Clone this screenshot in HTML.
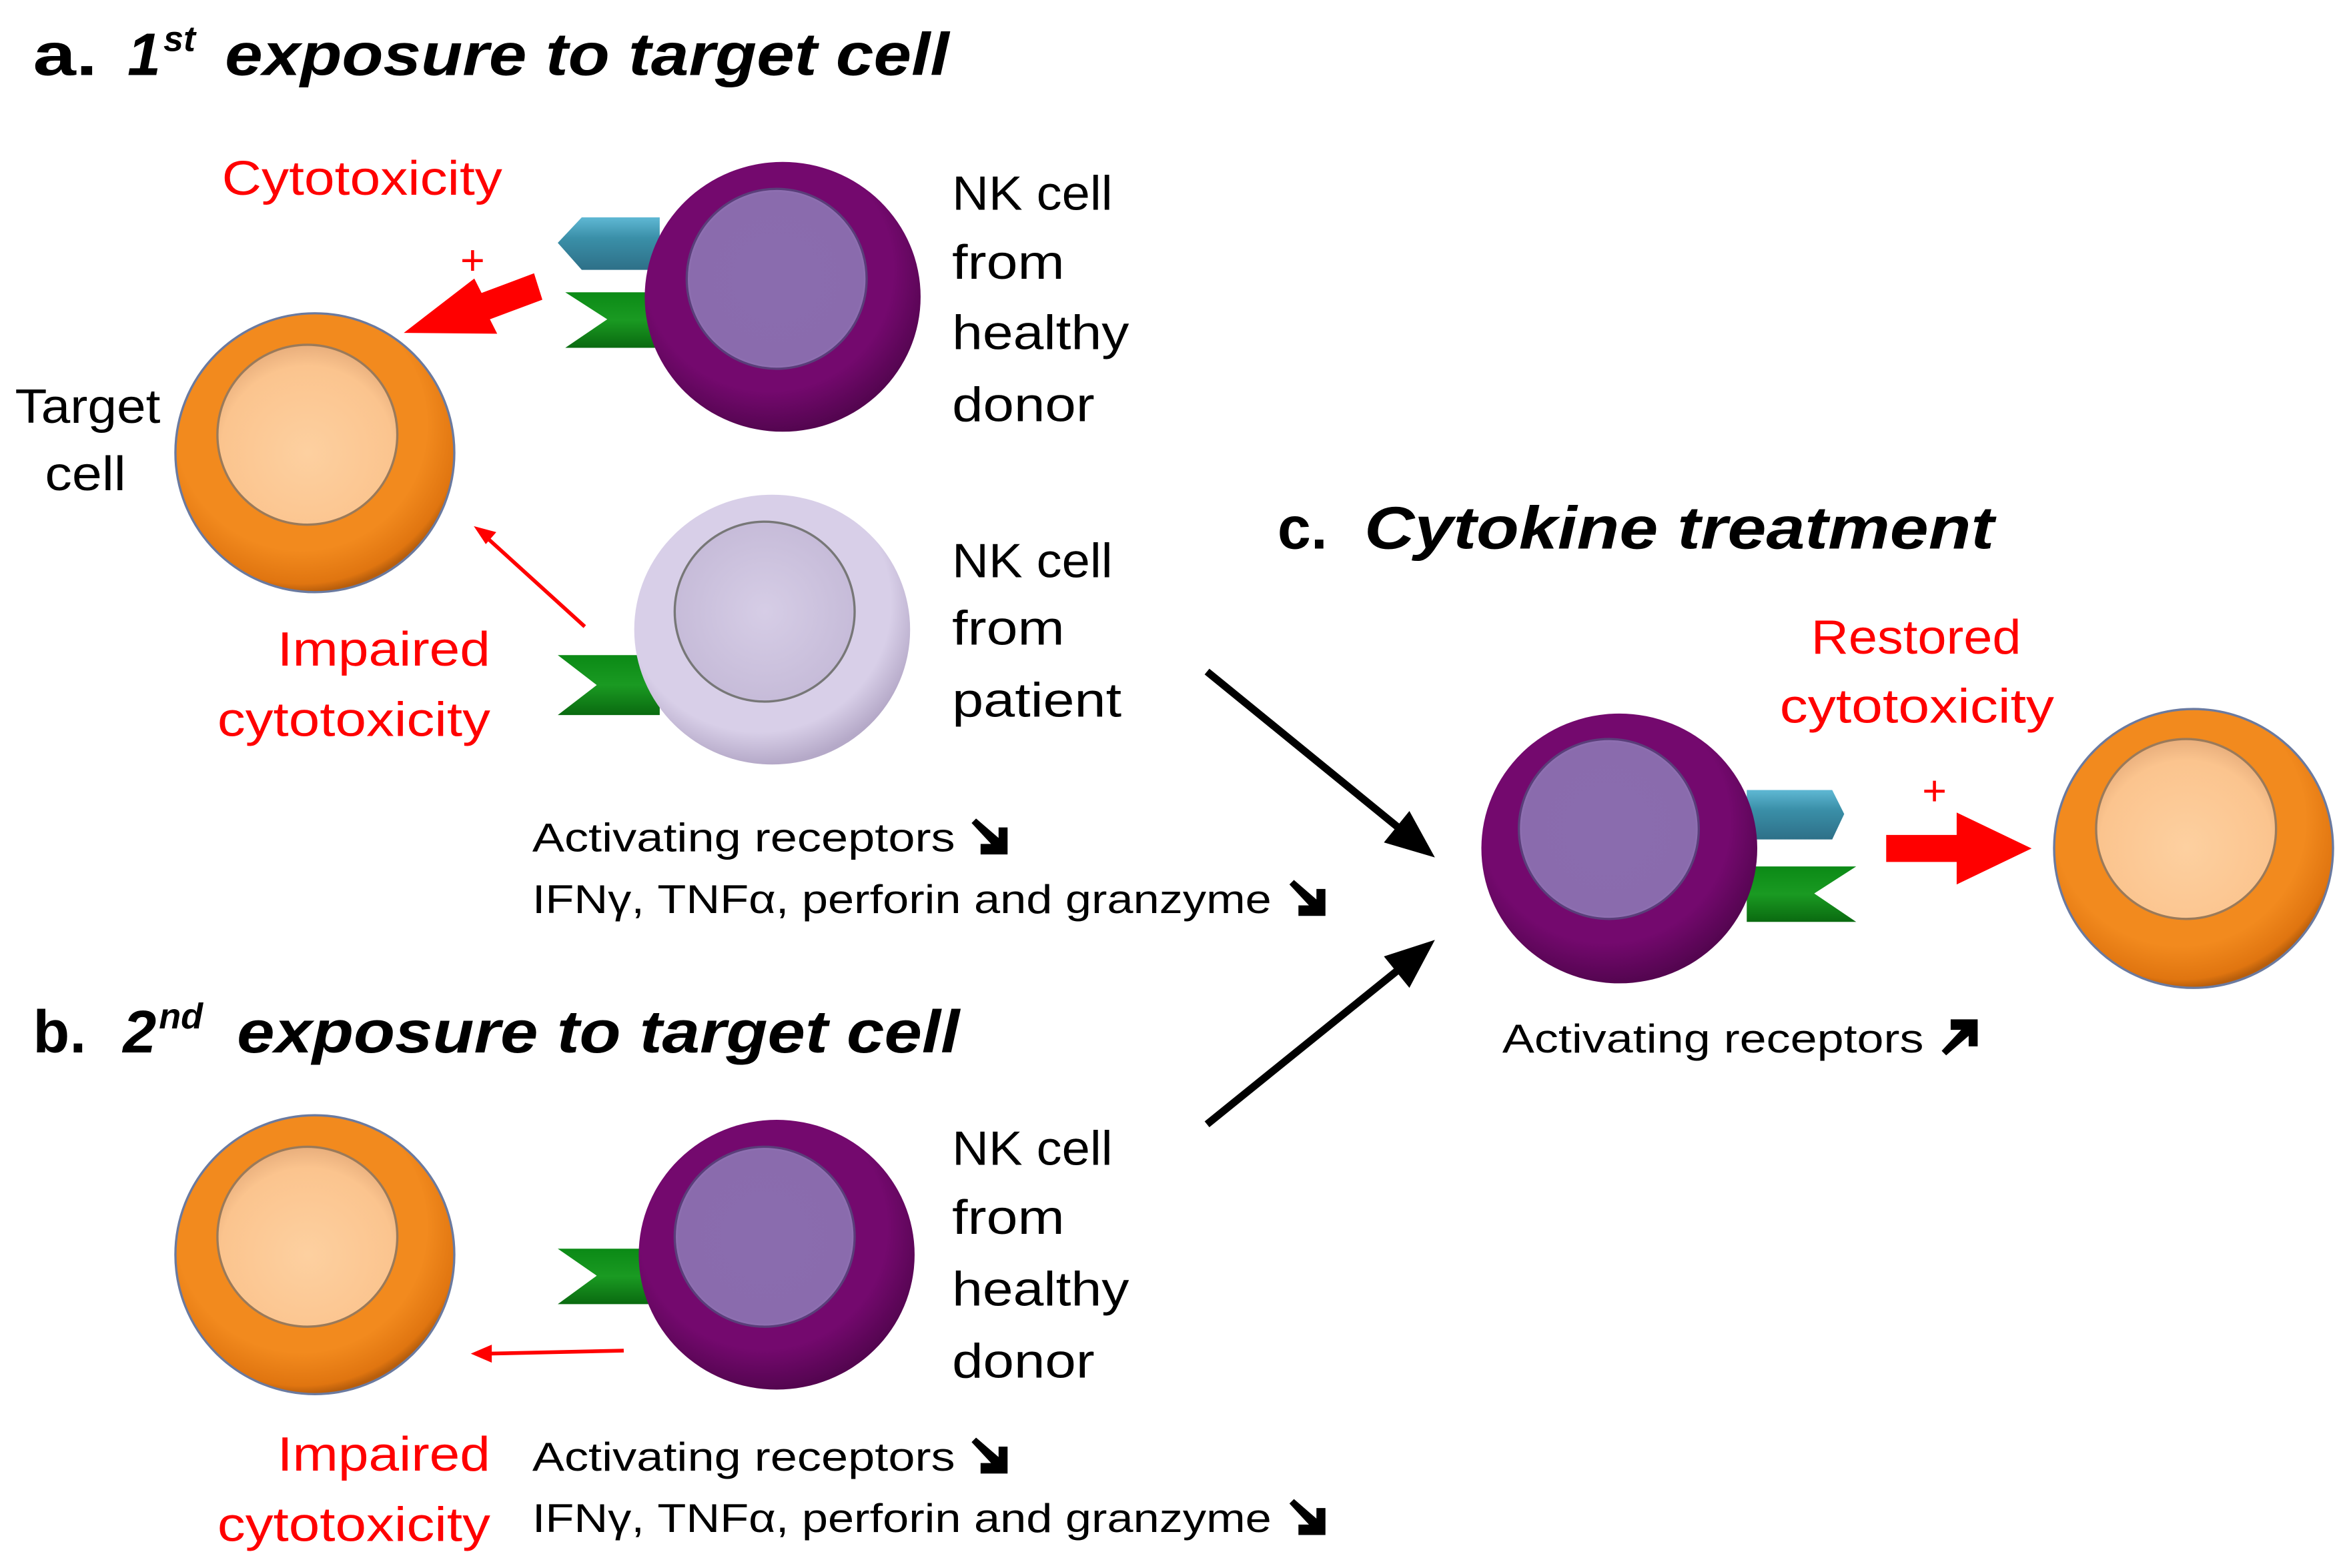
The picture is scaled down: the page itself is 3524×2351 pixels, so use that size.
<!DOCTYPE html>
<html><head><meta charset="utf-8"><style>
html,body{margin:0;padding:0;background:#fff;}
svg{display:block;}
text{font-family:"Liberation Sans",sans-serif;}
</style></head><body>
<svg width="3524" height="2351" viewBox="0 0 1568 1046" preserveAspectRatio="none" xmlns="http://www.w3.org/2000/svg">
<defs>
<radialGradient id="gOr" cx="0.45" cy="0.4" r="0.6">
<stop offset="0.75" stop-color="#f28a1e"/><stop offset="0.95" stop-color="#e07510"/><stop offset="1" stop-color="#b85e0c"/></radialGradient>
<radialGradient id="gOrN" cx="0.5" cy="0.6" r="0.6">
<stop offset="0" stop-color="#fdd0a0"/><stop offset="0.8" stop-color="#fbc48e"/><stop offset="1" stop-color="#e8ae7c"/></radialGradient>
<radialGradient id="gPu" cx="0.45" cy="0.4" r="0.6">
<stop offset="0.75" stop-color="#74096e"/><stop offset="1" stop-color="#540550"/></radialGradient>
<radialGradient id="gPuN" cx="0.5" cy="0.5" r="0.6">
<stop offset="0" stop-color="#8a6cae"/><stop offset="0.8" stop-color="#8a6bad"/><stop offset="1" stop-color="#b9a0dc"/></radialGradient>
<radialGradient id="gLi" cx="0.45" cy="0.4" r="0.6">
<stop offset="0.8" stop-color="#d8cfe8"/><stop offset="1" stop-color="#b5a9c8"/></radialGradient>
<radialGradient id="gLiN" cx="0.5" cy="0.5" r="0.6">
<stop offset="0" stop-color="#d6cde6"/><stop offset="1" stop-color="#c3b8d6"/></radialGradient>
<linearGradient id="gBl" x1="0" y1="0" x2="0" y2="1"><stop offset="0" stop-color="#5fb8d4"/><stop offset="0.4" stop-color="#3a8fa8"/><stop offset="1" stop-color="#2e7088"/></linearGradient>
<linearGradient id="gGr" x1="0" y1="0" x2="0" y2="1"><stop offset="0" stop-color="#0b8a16"/><stop offset="0.5" stop-color="#1a9a22"/><stop offset="1" stop-color="#0a6a10"/></linearGradient>
<g id="dn"><path d="M3,0 L0,3 L13,17 L6,17 L6,24 L24,24 L24,6 L18,6 L18,13 Z" fill="#000"/></g>
<g id="up"><path d="M3,24 L0,21 L13,7 L6,7 L6,0 L24,0 L24,18 L18,18 L18,11 Z" fill="#000"/></g>
</defs>
<rect width="1568" height="1046" fill="#fff"/>

<!-- Titles -->
<text x="22" y="50" font-size="40" font-weight="bold" textLength="43" lengthAdjust="spacingAndGlyphs">a.</text>
<text x="85" y="50" font-size="40" font-weight="bold" font-style="italic">1</text>
<text x="109" y="34" font-size="24" font-weight="bold" font-style="italic">st</text>
<text x="150" y="50" font-size="40" font-weight="bold" font-style="italic" textLength="483" lengthAdjust="spacingAndGlyphs">exposure to target cell</text>
<text x="22" y="702" font-size="40" font-weight="bold">b.</text>
<text x="82" y="702" font-size="40" font-weight="bold" font-style="italic">2</text>
<text x="106" y="686" font-size="24" font-weight="bold" font-style="italic">nd</text>
<text x="158" y="702" font-size="40" font-weight="bold" font-style="italic" textLength="482" lengthAdjust="spacingAndGlyphs">exposure to target cell</text>
<text x="852" y="366" font-size="40" font-weight="bold">c.</text>
<text x="910" y="366" font-size="40" font-weight="bold" font-style="italic" textLength="420" lengthAdjust="spacingAndGlyphs">Cytokine treatment</text>

<!-- Section a -->
<text x="148" y="130" font-size="32" fill="#f00" textLength="187" lengthAdjust="spacingAndGlyphs">Cytotoxicity</text>
<text x="307" y="183" font-size="28" fill="#f00">+</text>
<polygon points="268,218 318,186 322,196 358,186 362,204 326,214 330,224" fill="#f00" transform="rotate(-5 315 205)"/>
<!-- NK a -->
<polygon points="372,162 388,145 440,145 440,180 388,180" fill="url(#gBl)"/>
<polygon points="377,195 440,195 440,232 377,232 405,213" fill="url(#gGr)"/>
<ellipse cx="522" cy="198" rx="92" ry="90" fill="url(#gPu)"/>
<ellipse cx="518" cy="186" rx="60" ry="60" fill="url(#gPuN)" stroke="#5a3e7a" stroke-width="1.5"/>
<text font-size="32" x="635" y="140" textLength="107" lengthAdjust="spacingAndGlyphs">NK cell</text>
<text font-size="32" x="635" y="186" textLength="75" lengthAdjust="spacingAndGlyphs">from</text>
<text font-size="32" x="635" y="233" textLength="118" lengthAdjust="spacingAndGlyphs">healthy</text>
<text font-size="32" x="635" y="281" textLength="95" lengthAdjust="spacingAndGlyphs">donor</text>
<!-- Target a -->
<circle cx="210" cy="302" r="93" fill="url(#gOr)" stroke="#6a7aa0" stroke-width="1.5"/>
<circle cx="205" cy="290" r="60" fill="url(#gOrN)" stroke="#9a7a5a" stroke-width="1.5"/>
<text font-size="32" x="10" y="282" textLength="97" lengthAdjust="spacingAndGlyphs">Target</text>
<text font-size="32" x="30" y="327" textLength="54" lengthAdjust="spacingAndGlyphs">cell</text>
<!-- patient -->
<line x1="390" y1="418" x2="324" y2="358" stroke="#f00" stroke-width="2.5"/>
<polygon points="316,351 331,355 324,363" fill="#f00"/>
<polygon points="372,437 440,437 440,477 372,477 398,457" fill="url(#gGr)"/>
<ellipse cx="515" cy="420" rx="92" ry="90" fill="url(#gLi)"/>
<ellipse cx="510" cy="408" rx="60" ry="60" fill="url(#gLiN)" stroke="#777" stroke-width="1.5"/>
<text font-size="32" x="635" y="385" textLength="107" lengthAdjust="spacingAndGlyphs">NK cell</text>
<text font-size="32" x="635" y="430" textLength="75" lengthAdjust="spacingAndGlyphs">from</text>
<text font-size="32" x="635" y="478" textLength="113" lengthAdjust="spacingAndGlyphs">patient</text>
<text font-size="32" fill="#f00" x="185" y="444" textLength="142" lengthAdjust="spacingAndGlyphs">Impaired</text>
<text font-size="32" fill="#f00" x="145" y="491" textLength="182" lengthAdjust="spacingAndGlyphs">cytotoxicity</text>
<text x="355" y="568" font-size="27" textLength="282" lengthAdjust="spacingAndGlyphs">Activating receptors</text>
<use href="#dn" x="648" y="546"/>
<text x="355" y="609" font-size="27" textLength="493" lengthAdjust="spacingAndGlyphs">IFNγ, TNFα, perforin and granzyme</text>
<use href="#dn" x="860" y="587"/>

<!-- black arrows -->
<line x1="805" y1="448" x2="935" y2="554" stroke="#000" stroke-width="5"/>
<polygon points="957,572 923,562 940,541" fill="#000"/>
<line x1="805" y1="750" x2="935" y2="645" stroke="#000" stroke-width="5"/>
<polygon points="957,627 940,659 923,638" fill="#000"/>

<!-- Section c -->
<polygon points="1230,543 1222,527 1165,527 1165,560 1222,560" fill="url(#gBl)"/>
<polygon points="1238,578 1165,578 1165,615 1238,615 1210,596" fill="url(#gGr)"/>
<ellipse cx="1080" cy="566" rx="92" ry="90" fill="url(#gPu)"/>
<ellipse cx="1073" cy="553" rx="60" ry="60" fill="url(#gPuN)" stroke="#5a3e7a" stroke-width="1.5"/>
<text font-size="32" fill="#f00" x="1208" y="436" textLength="140" lengthAdjust="spacingAndGlyphs">Restored</text>
<text font-size="32" fill="#f00" x="1187" y="482" textLength="183" lengthAdjust="spacingAndGlyphs">cytotoxicity</text>
<text x="1282" y="537" font-size="28" fill="#f00">+</text>
<polygon points="1258,557 1305,557 1305,542 1355,566 1305,590 1305,575 1258,575" fill="#f00"/>
<circle cx="1463" cy="566" r="93" fill="url(#gOr)" stroke="#6a7aa0" stroke-width="1.5"/>
<circle cx="1458" cy="553" r="60" fill="url(#gOrN)" stroke="#9a7a5a" stroke-width="1.5"/>
<text x="1002" y="702" font-size="27" textLength="281" lengthAdjust="spacingAndGlyphs">Activating receptors</text>
<use href="#up" x="1295" y="680"/>

<!-- Section b -->
<circle cx="210" cy="837" r="93" fill="url(#gOr)" stroke="#6a7aa0" stroke-width="1.5"/>
<circle cx="205" cy="825" r="60" fill="url(#gOrN)" stroke="#9a7a5a" stroke-width="1.5"/>
<polygon points="372,833 440,833 440,870 372,870 398,851" fill="url(#gGr)"/>
<ellipse cx="518" cy="837" rx="92" ry="90" fill="url(#gPu)"/>
<ellipse cx="510" cy="825" rx="60" ry="60" fill="url(#gPuN)" stroke="#5a3e7a" stroke-width="1.5"/>
<text font-size="32" x="635" y="777" textLength="107" lengthAdjust="spacingAndGlyphs">NK cell</text>
<text font-size="32" x="635" y="823" textLength="75" lengthAdjust="spacingAndGlyphs">from</text>
<text font-size="32" x="635" y="871" textLength="118" lengthAdjust="spacingAndGlyphs">healthy</text>
<text font-size="32" x="635" y="919" textLength="95" lengthAdjust="spacingAndGlyphs">donor</text>
<line x1="416" y1="901" x2="326" y2="903" stroke="#f00" stroke-width="2.5"/>
<polygon points="314,903 328,897 328,909" fill="#f00"/>
<text font-size="32" fill="#f00" x="185" y="981" textLength="142" lengthAdjust="spacingAndGlyphs">Impaired</text>
<text font-size="32" fill="#f00" x="145" y="1028" textLength="182" lengthAdjust="spacingAndGlyphs">cytotoxicity</text>
<text x="355" y="981" font-size="27" textLength="282" lengthAdjust="spacingAndGlyphs">Activating receptors</text>
<use href="#dn" x="648" y="959"/>
<text x="355" y="1022" font-size="27" textLength="493" lengthAdjust="spacingAndGlyphs">IFNγ, TNFα, perforin and granzyme</text>
<use href="#dn" x="860" y="1000"/>
</svg>
</body></html>
